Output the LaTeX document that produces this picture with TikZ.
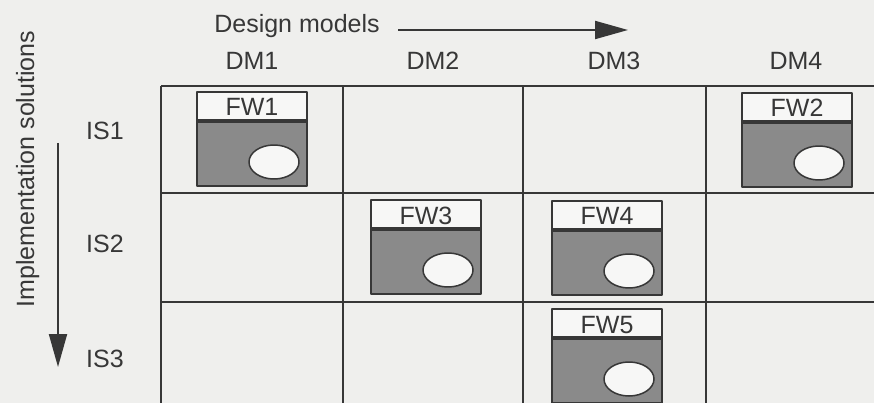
\documentclass[tikz,border=0pt]{standalone}
\usepackage{fontspec}
\setmainfont{Liberation Sans}
\usepackage{xcolor}
\usepackage{tikz}
\usetikzlibrary{arrows.meta}
\definecolor{paper}{RGB}{239,239,237}
\definecolor{ink}{RGB}{55,55,55}
\definecolor{fwgray}{RGB}{138,138,138}
\definecolor{fwlight}{RGB}{247,247,246}

\begin{document}
\begin{tikzpicture}[x=1pt,y=-1pt,line join=round,
  lab/.style={anchor=base,font=\fontsize{25}{30}\selectfont,text=ink,inner sep=0pt},
  gridline/.style={draw=ink,line width=1.5pt},
  axis/.style={draw=ink,line width=2pt,-{Triangle[length=33pt,width=18pt]}},
  fwbox/.style={draw=ink,line width=1.5pt}]
  \useasboundingbox[fill=paper] (0,0) rectangle (874,403);
  \foreach \x in {161,343,523,706} \draw[gridline] (\x,86) -- (\x,403);
  \foreach \y in {86,193,302} \draw[gridline] (161,\y) -- (874,\y);
  \node[lab] (dmtitle) at (297,33) {Design models};
  \coordinate (dmtail) at (398,30);
  \coordinate (dmhead) at (628,30);
  \draw[axis] (dmtail) -- (dmhead);
  \foreach \i/\x in {1/252,2/433,3/614,4/796} \node[lab] (dm\i) at (\x,70) {DM\i};
  \node[lab,rotate=90] (istitle) at (34,169) {Implementation solutions};
  \coordinate (istail) at (58,143);
  \coordinate (ishead) at (58,367);
  \draw[axis] (istail) -- (ishead);
  \foreach \i/\y in {1/140,2/252,3/367} \node[lab,anchor=base west] (is\i) at (86,\y) {IS\i};
  \foreach \n/\x/\y in {1/197/92,2/742/93,3/371/200,4/552/201,5/552/309} {
    \fill[fwlight] (\x,\y) rectangle ++(110,29);
    \fill[fwgray] (\x,\y+29) rectangle ++(110,65);
    \draw[fwbox] (\x,\y) rectangle ++(110,94);
    \draw[ink,line width=3.5pt] (\x,\y+29) -- ++(110,0);
    \draw[fwbox,fill=fwlight] (\x+77,\y+70) ellipse [x radius=25,y radius=17];
    \node[lab] (fw\n) at (\x+55,\y+24) {FW\n};
  }
\end{tikzpicture}
\end{document}
